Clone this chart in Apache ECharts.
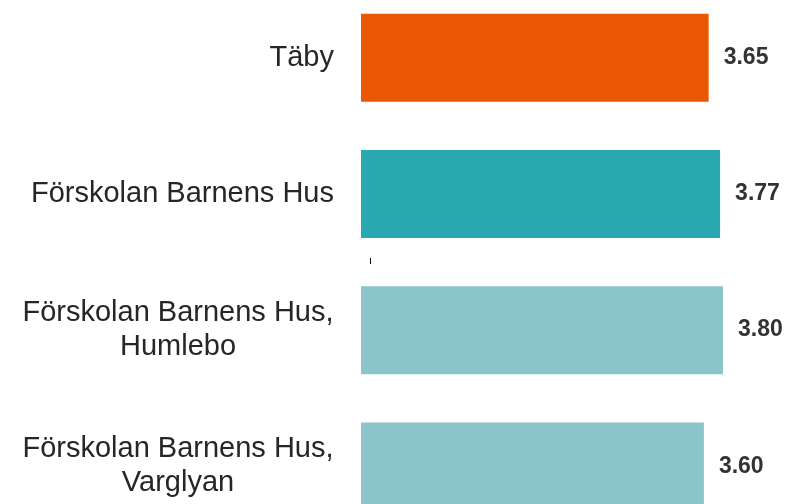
<!DOCTYPE html>
<html><head><meta charset="utf-8">
<script src="https://cdn.jsdelivr.net/npm/echarts@6/dist/echarts.min.js"></script>
<style>html,body{margin:0;padding:0;background:#fff}#c{width:787px;height:504px}</style>
</head><body><div id="c"></div>
<script>
var categories = ['Täby', 'Förskolan Barnens Hus', 'Förskolan Barnens Hus,\nHumlebo', 'Förskolan Barnens Hus,\nVarglyan'];
var values = [3.65, 3.77, 3.80, 3.60];
var barColors = ['#EA5806', '#2AA9B0', '#8CC4CC', '#8CC4CC'];

var FONT = 'Liberation Sans';
var chart = echarts.init(document.getElementById('c'), null, {renderer: 'canvas'});
chart.setOption({
  animation: false,
  grid: {left: 361, top: -10.5, width: 381, height: 545, containLabel: false, outerBoundsMode: 'none'},
  xAxis: {type: 'value', min: 0, max: 4, show: false},
  yAxis: {
    type: 'category', data: categories, inverse: true,
    axisLine: {show: false}, axisTick: {show: false}, splitLine: {show: false},
    axisLabel: {
      margin: 27, fontFamily: FONT, fontSize: 29, color: '#262626', lineHeight: 34,
      formatter: function (v) {
        if (v.indexOf('\n') < 0) return v;
        return v.split('\n').map(function (s) { return '{c|' + s + '}'; }).join('\n');
      },
      rich: {c: {width: 312, align: 'center', fontSize: 29, lineHeight: 34, fontFamily: FONT, color: '#262626'}}
    }
  },
  graphic: [{type: 'line', shape: {x1: 370.5, y1: 258, x2: 370.5, y2: 264}, style: {stroke: '#000', lineWidth: 1}}],
  series: [{
    type: 'bar', barWidth: 88,
    data: values.map(function (v, i) { return {value: v, itemStyle: {color: barColors[i]}}; }),
    label: {show: true, position: 'right', distance: 15, formatter: function (p) { return p.value.toFixed(2); },
      fontFamily: FONT, fontWeight: 'bold', fontSize: 23, color: '#333333'}
  }]
});
</script></body></html>
